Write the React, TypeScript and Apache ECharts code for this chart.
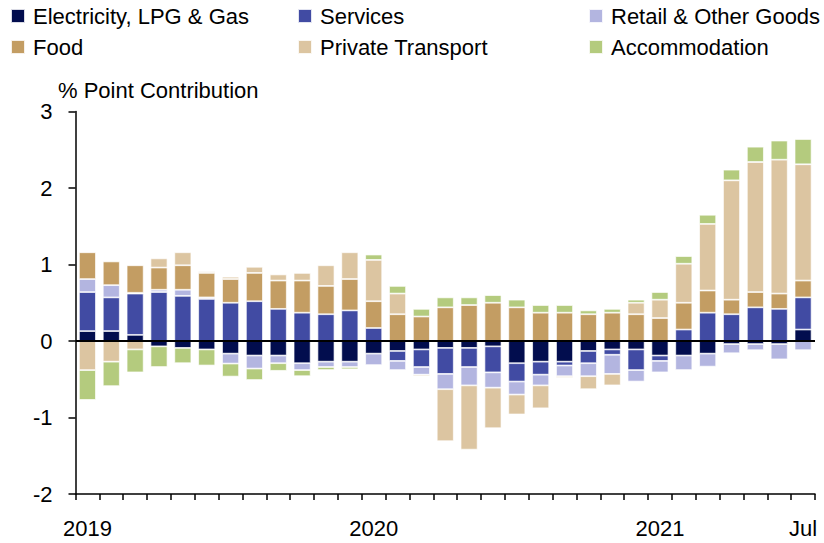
import React, { useEffect, useRef } from "react";
import * as echarts from "echarts";

const months = [
  "Jan 2019","Feb 2019","Mar 2019","Apr 2019","May 2019","Jun 2019","Jul 2019","Aug 2019","Sep 2019","Oct 2019","Nov 2019","Dec 2019",
  "Jan 2020","Feb 2020","Mar 2020","Apr 2020","May 2020","Jun 2020","Jul 2020","Aug 2020","Sep 2020","Oct 2020","Nov 2020","Dec 2020",
  "Jan 2021","Feb 2021","Mar 2021","Apr 2021","May 2021","Jun 2021","Jul 2021",
];

const tickLabelMonths = ["Jan 2019", "Jan 2020", "Jan 2021", "Jul 2021"];
const tickLabelTexts = ["2019", "2020", "2021", "Jul"];

const electricity = [0.13,0.13,0.08,-0.07,-0.09,-0.11,-0.165,-0.19,-0.19,-0.29,-0.27,-0.27,-0.165,-0.13,-0.11,-0.09,-0.09,-0.07,-0.29,-0.27,-0.27,-0.13,-0.11,-0.11,-0.19,-0.19,-0.165,-0.04,-0.04,-0.04,0.15];
const services = [0.51,0.44,0.54,0.64,0.59,0.55,0.5,0.52,0.42,0.37,0.35,0.4,0.17,-0.13,-0.23,-0.34,-0.25,-0.34,-0.24,-0.17,-0.05,-0.16,-0.07,-0.27,-0.07,0.15,0.37,0.35,0.44,0.42,0.42];
const retail = [0.17,0.16,0.01,0.03,0.08,0.02,-0.13,-0.17,-0.1,-0.09,-0.07,-0.07,-0.15,-0.12,-0.1,-0.2,-0.24,-0.2,-0.17,-0.14,-0.14,-0.17,-0.25,-0.15,-0.15,-0.19,-0.17,-0.12,-0.08,-0.2,-0.12];
const food = [0.35,0.31,0.36,0.29,0.32,0.32,0.31,0.37,0.37,0.42,0.37,0.41,0.35,0.35,0.32,0.44,0.47,0.5,0.44,0.37,0.37,0.35,0.37,0.35,0.3,0.35,0.29,0.19,0.2,0.2,0.22];
const privateTransport = [-0.38,-0.27,-0.11,0.12,0.17,0.02,0.03,0.08,0.08,0.1,0.27,0.35,0.54,0.27,-0.02,-0.68,-0.84,-0.53,-0.26,-0.3,-0.02,-0.17,-0.15,0.15,0.24,0.51,0.87,1.56,1.7,1.75,1.52];
const accommodation = [-0.39,-0.32,-0.3,-0.27,-0.2,-0.21,-0.17,-0.15,-0.1,-0.08,-0.04,-0.03,0.07,0.1,0.1,0.13,0.1,0.1,0.1,0.1,0.1,0.05,0.05,0.04,0.1,0.1,0.12,0.14,0.2,0.25,0.33];

const seriesNames = ["Electricity, LPG & Gas", "Services", "Retail & Other Goods", "Food", "Private Transport", "Accommodation"];
const seriesData = [electricity, services, retail, food, privateTransport, accommodation];
const seriesColors = ["#020d4e", "#414ba3", "#b3b5e0", "#c39d63", "#dcc5a1", "#b4cb7e"];

const yTicks = { min: -2, max: 3, interval: 1 };
const FONT = "'Liberation Sans', Arial, sans-serif";

export default function App() {
  const ref = useRef<HTMLDivElement>(null);
  useEffect(() => {
    if (!ref.current) return;
    const chart = echarts.init(ref.current, null, { renderer: "svg" });
    const legendBase = {
      orient: "vertical" as const,
      top: 5,
      padding: 0,
      icon: "rect",
      itemWidth: 14,
      itemHeight: 14,
      itemGap: 9,
      selectedMode: false,
      textStyle: { fontFamily: FONT, fontSize: 22, lineHeight: 22, color: "#000", padding: [0, 0, 0, 3] },
    };
    chart.setOption({
      animation: false,
      textStyle: { fontFamily: FONT },
      legend: [
        { ...legendBase, left: 10, data: [seriesNames[0], seriesNames[3]] },
        { ...legendBase, left: 297, data: [seriesNames[1], seriesNames[4]] },
        { ...legendBase, left: 588, data: [seriesNames[2], seriesNames[5]] },
      ],
      graphic: [
        {
          type: "text",
          left: 58,
          top: 79,
          style: { text: "% Point Contribution", fontFamily: FONT, fontSize: 22, fill: "#000" },
        },
      ],
      grid: { left: 75.5, right: 9, top: 111.5, bottom: 49 },
      xAxis: {
        type: "category",
        data: months,
        axisLine: { onZero: false, lineStyle: { color: "#000", width: 1.5 } },
        axisTick: { show: true, interval: 0, length: 6, lineStyle: { color: "#000", width: 1.5 } },
        axisLabel: {
          interval: 0,
          margin: 23,
          fontFamily: FONT,
          fontSize: 22,
          color: "#000",
          formatter: (v: string) => {
            const i = tickLabelMonths.indexOf(v);
            return i >= 0 ? tickLabelTexts[i] : "";
          },
        },
        splitLine: { show: false },
      },
      yAxis: {
        type: "value",
        min: yTicks.min,
        max: yTicks.max,
        interval: yTicks.interval,
        axisLine: { show: true, lineStyle: { color: "#000", width: 1.5 } },
        axisTick: { show: true, length: 7, lineStyle: { color: "#000", width: 1.5 } },
        axisLabel: { fontFamily: FONT, fontSize: 22, color: "#000", margin: 23 },
        splitLine: { show: false },
      },
      series: seriesNames.map((name, k) => ({
        name,
        type: "bar",
        stack: "total",
        barWidth: 17,
        data: seriesData[k],
        itemStyle: { color: seriesColors[k], borderColor: "rgba(255,255,255,0.85)", borderWidth: 0.8 },
        ...(k === 0
          ? {
              markLine: {
                silent: true,
                symbol: "none",
                label: { show: false },
                lineStyle: { color: "#000", width: 2, type: "solid" },
                data: [{ yAxis: 0 }],
              },
            }
          : {}),
      })),
    });
    return () => chart.dispose();
  }, []);
  return <div ref={ref} style={{ width: 824, height: 543, position: "absolute", left: 0, top: 0 }} />;
}
